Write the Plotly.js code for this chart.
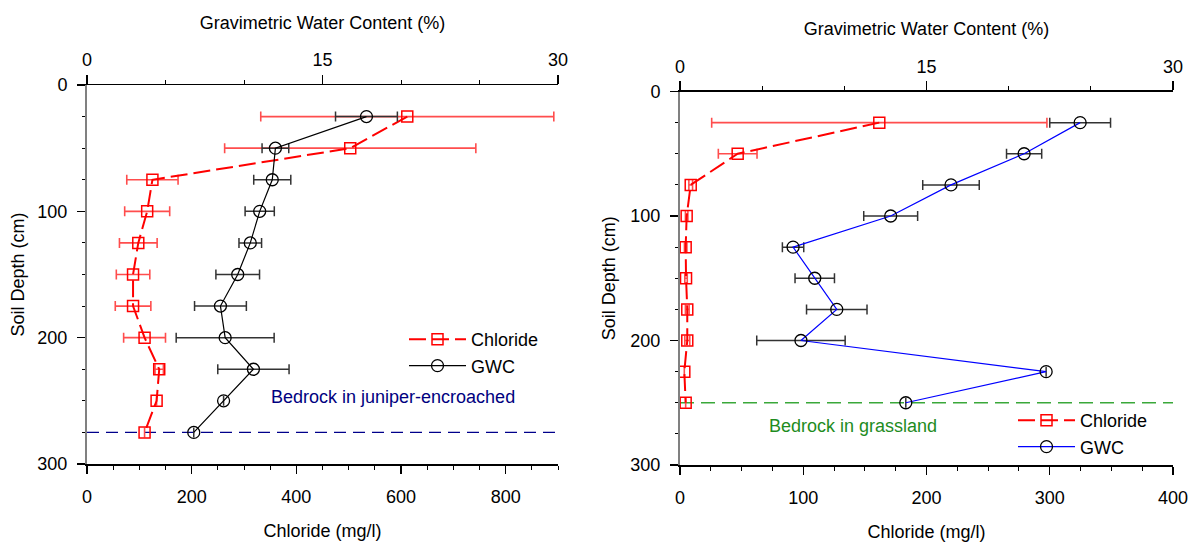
<!DOCTYPE html>
<html>
<head>
<meta charset="utf-8">
<script src="https://cdn.plot.ly/plotly-3.0.1.min.js"></script>
<style>html,body{margin:0;padding:0;background:#fff;}#chart{width:1194px;height:545px;}</style>
</head>
<body>
<div id="chart"></div>
<script>
// ---------- data: juniper-encroached (left) ----------
var depthJuniper = [25, 50, 75, 100, 125, 150, 175, 200, 225, 250, 275];
var chlorideJuniper = [612, 503, 125, 115, 98, 88, 88, 110, 138, 133, 110];
var chlorideJuniperErr = [280, 240, 49, 43, 36, 32, 34, 40, 8, 0, 0];
var gwcJuniper = [17.8, 12.0, 11.8, 11.0, 10.4, 9.6, 8.5, 8.8, 10.6, 8.7, 6.8];
var gwcJuniperErr = [1.97, 0.85, 1.18, 0.93, 0.72, 1.39, 1.65, 3.12, 2.27, 0, 0];
var bedrockJuniper = 275;

// ---------- data: grassland (right) ----------
var depthGrass = [25, 50, 75, 100, 125, 150, 175, 200, 225, 250];
var chlorideGrass = [161.7, 46.8, 8.7, 5.4, 4.6, 4.9, 5.9, 5.9, 3.5, 4.6];
var chlorideGrassErr = [136, 15.7, 1.5, 1, 1, 1, 1.5, 2, 0, 0];
var gwcGrass = [24.35, 20.94, 16.49, 12.82, 6.88, 8.2, 9.54, 7.36, 22.28, 13.74];
var gwcGrassErr = [1.85, 1.07, 1.72, 1.64, 0.65, 1.2, 1.84, 2.69, 0, 0];
var bedrockGrass = 250;

// ---------- labels ----------
var seriesNames = ['Chloride', 'GWC'];
var chlorideTitle = 'Chloride (mg/l)';
var gwcTitle = 'Gravimetric Water Content (%)';
var depthTitle = 'Soil Depth (cm)';
var noteJuniper = 'Bedrock in juniper-encroached';
var noteGrass = 'Bedrock in grassland';

var W = 1194, H = 545;
function px(a, b) { return [a / W, b / W]; }
function py(top, bottom) { return [1 - bottom / H, 1 - top / H]; }

var FONT = 'Liberation Sans, Arial, sans-serif';
var FS = 18;
var RED = '#ff0000', ERRRED = '#ff4d4d', GRAY = '#808080';
var DASH = '17px,6px';

var traces = [
  {x: chlorideJuniper, y: depthJuniper, xaxis: 'x', yaxis: 'y', name: seriesNames[0], legend: 'legend',
   mode: 'lines+markers', line: {color: RED, width: 2, dash: DASH},
   marker: {symbol: 'square-open', size: 11, color: RED, line: {width: 1.5, color: RED}},
   error_x: {type: 'data', array: chlorideJuniperErr, visible: true, color: ERRRED, thickness: 1.6, width: 5}},
  {x: gwcJuniper, y: depthJuniper, xaxis: 'x2', yaxis: 'y', name: seriesNames[1], legend: 'legend',
   mode: 'lines+markers', line: {color: '#000', width: 1.2},
   marker: {symbol: 'circle-open', size: 12, color: '#000', line: {width: 1.3, color: '#000'}},
   error_x: {type: 'data', array: gwcJuniperErr, visible: true, color: '#333', thickness: 1.5, width: 5}},
  {x: chlorideGrass, y: depthGrass, xaxis: 'x3', yaxis: 'y2', name: seriesNames[0], legend: 'legend2',
   mode: 'lines+markers', line: {color: RED, width: 2, dash: DASH},
   marker: {symbol: 'square-open', size: 11, color: RED, line: {width: 1.5, color: RED}},
   error_x: {type: 'data', array: chlorideGrassErr, visible: true, color: ERRRED, thickness: 1.6, width: 5}},
  {x: gwcGrass, y: depthGrass, xaxis: 'x4', yaxis: 'y2', name: seriesNames[1], legend: 'legend2',
   mode: 'lines+markers', line: {color: '#0000ff', width: 1.2},
   marker: {symbol: 'circle-open', size: 12, color: '#000', line: {width: 1.3, color: '#000'}},
   error_x: {type: 'data', array: gwcGrassErr, visible: true, color: '#333', thickness: 1.5, width: 5}}
];

var tf = {family: FONT, size: FS, color: '#000'};
var LD = px(87, 558), RD = px(680, 1173);
var LY = py(85, 464), RY = py(91.5, 465);

function bottomAxis(dom, rng, dt, mdt, anchor) {
  return {domain: dom, range: rng, anchor: anchor, side: 'bottom', dtick: dt, tick0: 0,
    showline: true, linecolor: '#000', linewidth: 1.5, ticks: 'outside', ticklen: 8, tickcolor: '#000', tickwidth: 1.2,
    minor: {dtick: mdt, ticks: 'outside', ticklen: 4, tickcolor: '#000', tickwidth: 1},
    showgrid: false, zeroline: false, tickfont: tf, ticklabelstandoff: 8,
    title: {text: chlorideTitle, font: tf, standoff: 18}};
}
function topAxis(over, rng, anchor) {
  return {overlaying: over, range: rng, anchor: anchor, side: 'top', dtick: 15, tick0: 0,
    showline: true, linecolor: '#000', linewidth: 1.5, ticks: 'outside', ticklen: 9, tickcolor: '#000', tickwidth: 1.2,
    minor: {dtick: 5, ticks: 'outside', ticklen: 4, tickcolor: '#000', tickwidth: 1},
    showgrid: false, zeroline: false, tickfont: tf, ticklabelstandoff: 1,
    title: {text: gwcTitle, font: tf, standoff: 16}};
}
function innerTop(over, rng, anchor) {
  return {overlaying: over, range: rng, anchor: anchor, side: 'top', dtick: 5, tick0: 0,
    showline: false, ticks: 'inside', ticklen: 4, tickcolor: '#000', tickwidth: 1,
    showticklabels: false, showgrid: false, zeroline: false};
}
function leftAxis(dom, anchor, so) {
  return {domain: dom, range: [300, 0], anchor: anchor, side: 'left', dtick: 100, tick0: 0,
    showline: true, linecolor: GRAY, linewidth: 2, ticks: 'outside', ticklen: 8, tickcolor: '#000', tickwidth: 1.2,
    minor: {dtick: 25, ticks: 'outside', ticklen: 3, tickcolor: '#000', tickwidth: 1},
    showgrid: false, zeroline: false, tickfont: tf, ticklabelstandoff: 6,
    title: {text: depthTitle, font: tf, standoff: so}};
}
function rightMirror(over, anchor) {
  return {overlaying: over, range: [300, 0], anchor: anchor, side: 'right', dtick: 100, tick0: 0,
    showline: true, linecolor: GRAY, linewidth: 2, ticks: 'inside', ticklen: 0, tickcolor: '#000',
    minor: {dtick: 25, ticks: 'inside', ticklen: 4, tickcolor: '#000', tickwidth: 1},
    showticklabels: false, showgrid: false, zeroline: false};
}

var layout = {
  width: W, height: H, margin: {l: 0, r: 0, t: 0, b: 0},
  paper_bgcolor: '#fff', plot_bgcolor: '#fff',
  font: {family: FONT, size: FS, color: '#000'},
  showlegend: true,
  xaxis: bottomAxis(LD, [0, 900], 200, 50, 'y'),
  xaxis2: topAxis('x', [0, 30], 'y'),
  xaxis3: bottomAxis(RD, [0, 400], 100, 25, 'y2'),
  xaxis4: topAxis('x3', [0, 30], 'y2'),
  xaxis5: innerTop('x3', [0, 30], 'y2'),
  yaxis: leftAxis(LY, 'x', 8),
  yaxis2: leftAxis(RY, 'x3', 10),
  yaxis3: rightMirror('y', 'x'),
  yaxis4: rightMirror('y2', 'x3'),
  legend: {x: 404 / W, y: 1 - 321 / H, xanchor: 'left', yanchor: 'top', bgcolor: 'rgba(0,0,0,0)',
    font: {family: FONT, size: FS, color: '#000'}, itemwidth: 57, tracegroupgap: 0},
  legend2: {x: 1013 / W, y: 1 - 402 / H, xanchor: 'left', yanchor: 'top', bgcolor: 'rgba(0,0,0,0)',
    font: {family: FONT, size: FS, color: '#000'}, itemwidth: 57, tracegroupgap: 0},
  shapes: [
    {type: 'line', xref: 'x domain', yref: 'y', x0: 0, x1: 1, y0: bedrockJuniper, y1: bedrockJuniper,
     line: {color: '#00008b', width: 1.3, dash: '12px,7px'}, layer: 'below'},
    {type: 'line', xref: 'x3 domain', yref: 'y2', x0: 0, x1: 1, y0: bedrockGrass, y1: bedrockGrass,
     line: {color: '#3aa83a', width: 1.3, dash: '14px,7px'}, layer: 'below'}
  ],
  annotations: [
    {xref: 'x', yref: 'y', x: 585, y: 247, text: noteJuniper, showarrow: false,
     font: {family: FONT, size: FS, color: '#000080'}},
    {xref: 'x3', yref: 'y2', x: 140, y: 269, text: noteGrass, showarrow: false,
     font: {family: FONT, size: FS, color: '#1e8c1e'}}
  ]
};

Plotly.newPlot('chart', traces, layout, {displayModeBar: false, staticPlot: true});
</script>
</body>
</html>
